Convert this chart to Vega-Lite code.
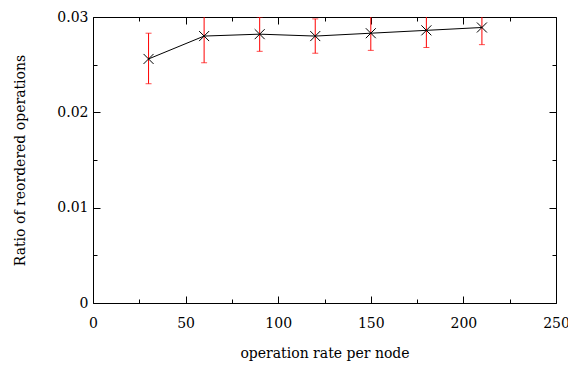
{
  "$schema": "https://vega.github.io/schema/vega-lite/v6.json",
  "autosize": {"type": "none"},
  "padding": {"left": 93, "top": 17, "right": 12, "bottom": 62},
  "width": 463,
  "height": 286,
  "config": {
    "font": "DejaVu Serif",
    "view": {"stroke": "black", "strokeWidth": 1},
    "axis": {
      "grid": false,
      "labelFont": "DejaVu Serif",
      "titleFont": "DejaVu Serif",
      "labelFontSize": 14,
      "titleFontSize": 14,
      "titleFontWeight": "normal",
      "labelColor": "black",
      "titleColor": "black",
      "tickColor": "black",
      "domainColor": "black",
      "labelFlush": false,
      "labelOverlap": false
    }
  },
  "data": {
    "values": [
      {"rate": 30, "ratio": 0.0256, "lo": 0.0230, "hi": 0.0283},
      {"rate": 60, "ratio": 0.0280, "lo": 0.0252, "hi": 0.0308},
      {"rate": 90, "ratio": 0.0282, "lo": 0.0264, "hi": 0.0300},
      {"rate": 120, "ratio": 0.0280, "lo": 0.0262, "hi": 0.0298},
      {"rate": 150, "ratio": 0.0283, "lo": 0.0265, "hi": 0.0302},
      {"rate": 180, "ratio": 0.0286, "lo": 0.0268, "hi": 0.0304},
      {"rate": 210, "ratio": 0.0289, "lo": 0.0271, "hi": 0.0307}
    ]
  },
  "resolve": {"axis": {"x": "independent", "y": "independent"}},
  "layer": [
    {
      "mark": {"type": "rule", "color": "#ff0000", "strokeWidth": 1, "clip": true},
      "encoding": {
        "x": {"field": "rate", "type": "quantitative", "scale": {"domain": [0, 250], "nice": false},
          "axis": {"orient": "bottom", "values": [0, 50, 100, 150, 200, 250], "tickSize": -7, "labelPadding": 20, "domain": false, "title": "operation rate per node", "titlePadding": 16}},
        "y": {"field": "lo", "type": "quantitative", "scale": {"domain": [0, 0.03], "nice": false, "zero": true},
          "axis": {"orient": "left", "values": [0, 0.01, 0.02, 0.03], "tickSize": -7, "labelPadding": 12, "domain": false, "labelExpr": "datum.value == 0 ? '0' : format(datum.value, '.2f')", "title": "Ratio of reordered operations", "titlePadding": 29}},
        "y2": {"field": "hi"}
      }
    },
    {
      "mark": {"type": "tick", "orient": "horizontal", "color": "#ff0000", "size": 6, "thickness": 1, "clip": true},
      "encoding": {
        "x": {"field": "rate", "type": "quantitative", "axis": {"orient": "top", "values": [0, 50, 100, 150, 200, 250], "tickSize": -7, "labels": false, "domain": false, "title": null}},
        "y": {"field": "lo", "type": "quantitative", "axis": {"orient": "right", "values": [0, 0.01, 0.02, 0.03], "tickSize": -7, "labels": false, "domain": false, "title": null}}
      }
    },
    {
      "mark": {"type": "tick", "orient": "horizontal", "color": "#ff0000", "size": 6, "thickness": 1, "clip": true},
      "encoding": {
        "x": {"field": "rate", "type": "quantitative", "axis": {"orient": "bottom", "values": [25, 75, 125, 175, 225], "tickSize": -4, "labels": false, "domain": false, "title": null}},
        "y": {"field": "hi", "type": "quantitative", "axis": {"orient": "left", "values": [0.005, 0.015, 0.025], "tickSize": -4, "labels": false, "domain": false, "title": null}}
      }
    },
    {
      "mark": {"type": "line", "color": "black", "strokeWidth": 1, "clip": true},
      "encoding": {
        "x": {"field": "rate", "type": "quantitative", "axis": {"orient": "top", "values": [25, 75, 125, 175, 225], "tickSize": -4, "labels": false, "domain": false, "title": null}},
        "y": {"field": "ratio", "type": "quantitative", "axis": {"orient": "right", "values": [0.005, 0.015, 0.025], "tickSize": -4, "labels": false, "domain": false, "title": null}}
      }
    },
    {
      "mark": {"type": "point", "shape": "M-1,-1L1,1M-1,1L1,-1", "size": 100, "filled": false, "color": "black", "strokeWidth": 1, "opacity": 1, "clip": true},
      "encoding": {
        "x": {"field": "rate", "type": "quantitative", "axis": null},
        "y": {"field": "ratio", "type": "quantitative", "axis": null}
      }
    }
  ]
}
